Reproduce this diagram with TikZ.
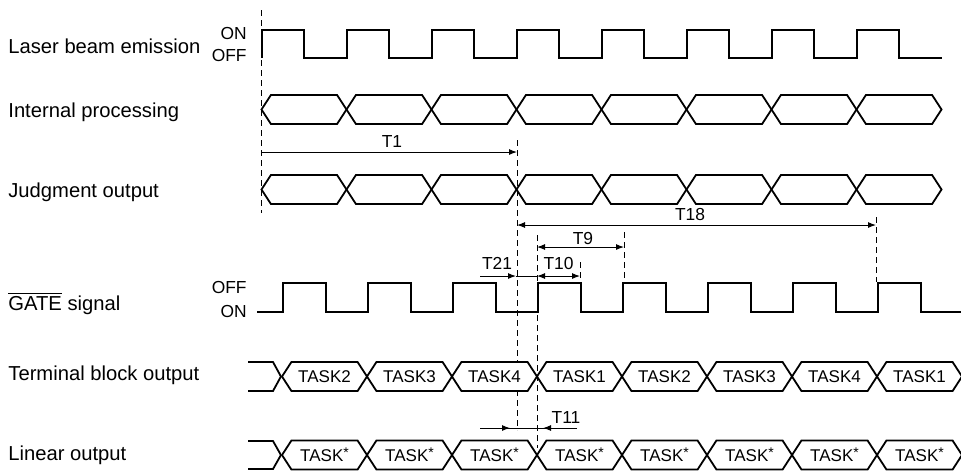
\documentclass[tikz,border=0pt]{standalone}
\usepackage{fontspec}
\setmainfont{Liberation Sans}
\usepackage{amsmath}
\usetikzlibrary{arrows.meta,shapes.symbols}

\tikzset{
  wave/.style={line width=1pt},
  busbox/.style={draw, line width=0.9pt, fill=white, shape=signal,
    signal to=east and west, signal pointer angle=114,
    minimum width=42.5pt, minimum height=14.5pt, inner sep=0pt,
    font=\fontsize{8.5}{10}\selectfont},
  guide/.style={line width=0.5pt, dash pattern=on 3pt off 2pt},
  dimline/.style={line width=0.5pt},
  tip/.style={-{Latex[length=4pt,width=3pt]}},
  bothtips/.style={{Latex[length=4pt,width=3pt]}-{Latex[length=4pt,width=3pt]}},
  tlabel/.style={font=\fontsize{8.7}{10}\selectfont, inner sep=0pt},
  rowlabel/.style={anchor=base west, font=\fontsize{10.1}{12}\selectfont, inner sep=0pt},
  levellabel/.style={anchor=base east, font=\fontsize{8.7}{10}\selectfont, inner sep=0pt}
}
\newcommand{\taskany}{TASK\raisebox{2.2pt}{\fontsize{7}{8}\selectfont *}}

\begin{document}
\begin{tikzpicture}[x=0.5pt,y=-0.5pt]
            \useasboundingbox (0,0) rectangle (961,473);

            % signal names
            \node[rowlabel] (laser) at (8,53) {Laser beam emission};
            \node[rowlabel] (internal) at (8,117) {Internal processing};
            \node[rowlabel] (judgment) at (8,197) {Judgment output};
            \node[rowlabel] (gate) at (8,310) {$\overline{\text{GATE}\vphantom{l}}$ signal};
            \node[rowlabel] (terminal) at (8,380) {Terminal block output};
            \node[rowlabel] (linear) at (8,460) {Linear output};

            \node[levellabel] (laseron) at (247,39.5) {ON};
            \node[levellabel] (laseroff) at (247,61.5) {OFF};
            \node[levellabel] (gateoff) at (247,293) {OFF};
            \node[levellabel] (gateon) at (247,317) {ON};

            % timing guides
            \draw[guide] (261.5,10) -- (261.5,213);
            \draw[guide] (517,140) -- (517,430);
            \draw[guide] (537,235) -- (537,448);
            \draw[guide] (580,262) -- (580,279);
            \draw[guide] (624,232) -- (624,279);
            \draw[guide] (876,217) -- (876,282);

            % laser beam
            \draw[wave] (261.5,58) -- (261.5,30) -- (304,30) -- (304,58) -- (346.5,58)
              -- (346.5,30) -- (389,30) -- (389,58) -- (431.5,58) -- (431.5,30)
              -- (474,30) -- (474,58) -- (516.5,58) -- (516.5,30) -- (559,30)
              -- (559,58) -- (601.5,58) -- (601.5,30) -- (644,30) -- (644,58)
              -- (686.5,58) -- (686.5,30) -- (729,30) -- (729,58) -- (771.5,58)
              -- (771.5,30) -- (814,30) -- (814,58) -- (856.5,58) -- (856.5,30)
              -- (899,30) -- (899,58) -- (941.5,58);

            % internal processing
            \node[busbox] (ip1) at (304,109.5) {};
            \node[busbox] (ip2) at (389,109.5) {};
            \node[busbox] (ip3) at (474,109.5) {};
            \node[busbox] (ip4) at (559,109.5) {};
            \node[busbox] (ip5) at (644,109.5) {};
            \node[busbox] (ip6) at (729,109.5) {};
            \node[busbox] (ip7) at (814,109.5) {};
            \node[busbox] (ip8) at (899,109.5) {};

            % judgment output
            \node[busbox] (jo1) at (304,189.5) {};
            \node[busbox] (jo2) at (389,189.5) {};
            \node[busbox] (jo3) at (474,189.5) {};
            \node[busbox] (jo4) at (559,189.5) {};
            \node[busbox] (jo5) at (644,189.5) {};
            \node[busbox] (jo6) at (729,189.5) {};
            \node[busbox] (jo7) at (814,189.5) {};
            \node[busbox] (jo8) at (899,189.5) {};

            % GATE signal
            \draw[wave] (257,312) -- (283,312) -- (283,283) -- (325.5,283) -- (325.5,312)
              -- (368,312) -- (368,283) -- (410.5,283) -- (410.5,312) -- (453,312)
              -- (453,283) -- (495.5,283) -- (495.5,312) -- (538,312) -- (538,283)
              -- (580.5,283) -- (580.5,312) -- (623,312) -- (623,283) -- (665.5,283)
              -- (665.5,312) -- (708,312) -- (708,283) -- (750.5,283) -- (750.5,312)
              -- (793,312) -- (793,283) -- (835.5,283) -- (835.5,312) -- (878,312)
              -- (878,283) -- (920.5,283) -- (920.5,312) -- (961,312);

            % terminal block output
            \node[busbox] (tb1) at (324.5,376.5) {TASK2};
            \node[busbox] (tb2) at (409.5,376.5) {TASK3};
            \node[busbox] (tb3) at (494.5,376.5) {TASK4};
            \node[busbox] (tb4) at (579.5,376.5) {TASK1};
            \node[busbox] (tb5) at (664.5,376.5) {TASK2};
            \node[busbox] (tb6) at (749.5,376.5) {TASK3};
            \node[busbox] (tb7) at (834.5,376.5) {TASK4};
            \node[busbox] (tb8) at (919.5,376.5) {TASK1};
            \draw[line width=0.9pt] (248,362) -- (273,362) -- (tb1.west);
            \draw[line width=0.9pt] (248,391) -- (273,391) -- (tb1.west);

            % linear output
            \node[busbox] (lo1) at (324.5,455) {\taskany};
            \node[busbox] (lo2) at (409.5,455) {\taskany};
            \node[busbox] (lo3) at (494.5,455) {\taskany};
            \node[busbox] (lo4) at (579.5,455) {\taskany};
            \node[busbox] (lo5) at (664.5,455) {\taskany};
            \node[busbox] (lo6) at (749.5,455) {\taskany};
            \node[busbox] (lo7) at (834.5,455) {\taskany};
            \node[busbox] (lo8) at (919.5,455) {\taskany};
            \draw[line width=0.9pt] (248,441) -- (273,441) -- (lo1.west);
            \draw[line width=0.9pt] (248,469) -- (273,469) -- (lo1.west);

            % times
            \coordinate (t1a) at (261.5,152);
            \coordinate (t1b) at (517,152);
            \draw[dimline,tip] (t1a) -- (t1b);
            \node[tlabel] (T1) at (392,141.5) {T1};

            \coordinate (t18a) at (517,225);
            \coordinate (t18b) at (876,225);
            \draw[dimline,bothtips] (t18a) -- (t18b);
            \node[tlabel] (T18) at (690,214) {T18};

            \coordinate (t9a) at (537,247);
            \coordinate (t9b) at (624,247);
            \draw[dimline,bothtips] (t9a) -- (t9b);
            \node[tlabel] (T9) at (583,238.5) {T9};

            \coordinate (t10a) at (537,276);
            \coordinate (t10b) at (580,276);
            \draw[dimline,bothtips] (t10a) -- (t10b);
            \node[tlabel] (T10) at (558.5,263.5) {T10};

            \coordinate (t21a) at (480,276);
            \coordinate (t21b) at (516,276);
            \draw[dimline,tip] (t21a) -- (t21b);
            \draw[dimline] (t21b) -- (t10a);
            \node[tlabel] (T21) at (497,263.5) {T21};

            \coordinate (t11a) at (480,428);
            \coordinate (t11b) at (510,428);
            \coordinate (t11c) at (543,428);
            \coordinate (t11d) at (577,428);
            \draw[dimline] (t11a) -- (t11d);
            \draw[dimline,tip] (t11a) -- (t11b);
            \draw[dimline,tip] (t11d) -- (t11c);
            \node[tlabel] (T11) at (566,417) {T11};

        \end{tikzpicture}
\end{document}
